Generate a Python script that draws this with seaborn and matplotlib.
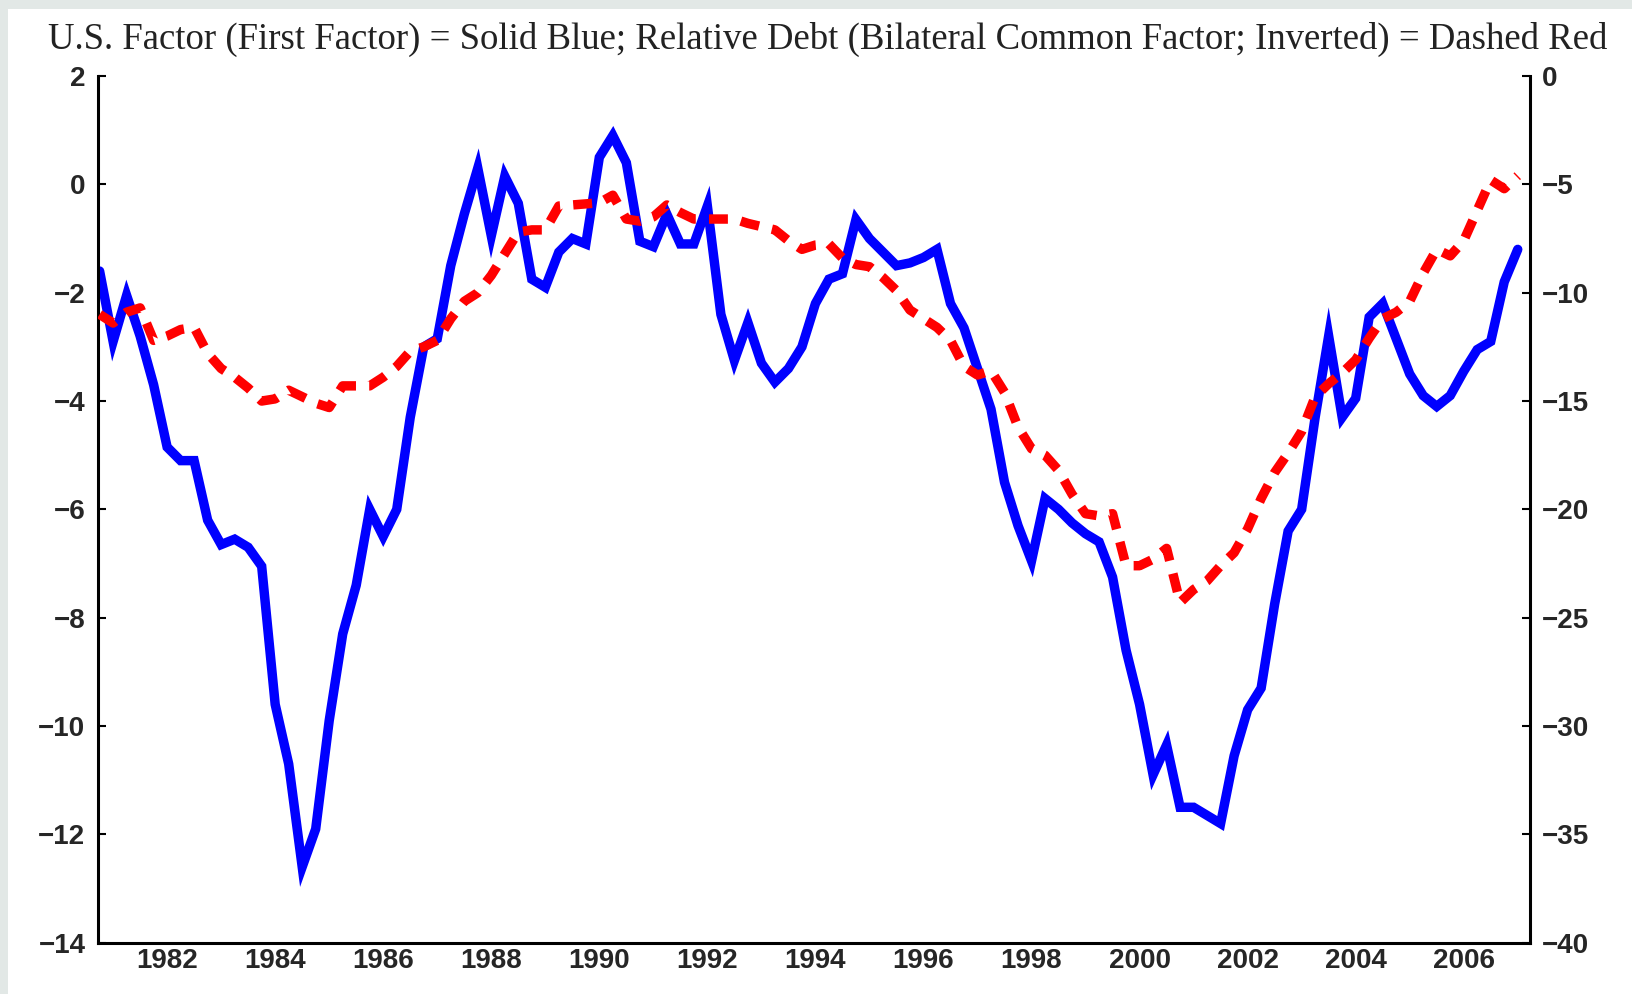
import numpy as np
import pandas as pd
import matplotlib
matplotlib.use("Agg")
import matplotlib.pyplot as plt
from matplotlib.patches import Rectangle
import seaborn as sns

# Quarterly sample, 1981Q2 .. 2007Q3
quarters = pd.period_range("1981Q2", periods=106, freq="Q")
year_pos = quarters.year + (quarters.quarter - 1) / 4.0

# U.S. factor (first factor), left axis
us_factor = [
    -1.6, -2.9, -2.05, -2.8, -3.7, -4.85, -5.1, -5.1, -6.2, -6.65,
    -6.55, -6.7, -7.05, -9.6, -10.7, -12.6, -11.9, -9.9, -8.3, -7.4,
    -6.0, -6.5, -6.0, -4.3, -3.0, -2.85, -1.5, -0.55, 0.3, -0.95,
    0.15, -0.35, -1.75, -1.9, -1.25, -1.0, -1.1, 0.5, 0.9, 0.4,
    -1.05, -1.15, -0.55, -1.1, -1.1, -0.4, -2.4, -3.25, -2.55, -3.3,
    -3.65, -3.4, -3.0, -2.2, -1.75, -1.65, -0.65, -1.0, -1.25, -1.5,
    -1.45, -1.35, -1.2, -2.2, -2.65, -3.4, -4.15, -5.5, -6.3, -6.95,
    -5.8, -6.0, -6.25, -6.45, -6.6, -7.25, -8.6, -9.6, -10.9, -10.35,
    -11.5, -11.5, -11.65, -11.8, -10.55, -9.7, -9.3, -7.75, -6.4, -6.0,
    -4.3, -2.8, -4.3, -3.95, -2.45, -2.2, -2.85, -3.5, -3.9, -4.1,
    -3.9, -3.45, -3.05, -2.9, -1.8, -1.2,
]

# Relative debt (bilateral common factor, inverted), right axis
relative_debt = [
    -11.0, -11.4, -10.9, -10.7, -12.2, -12.0, -11.7, -11.6, -12.8, -13.5,
    -13.9, -14.4, -15.0, -14.9, -14.5, -14.8, -15.1, -15.3, -14.3, -14.3,
    -14.3, -13.9, -13.4, -12.7, -12.5, -12.2, -11.2, -10.4, -10.0, -9.2,
    -8.2, -7.2, -7.1, -7.1, -6.0, -5.95, -5.9, -5.85, -5.5, -6.6,
    -6.7, -6.5, -5.95, -6.3, -6.6, -6.6, -6.6, -6.6, -6.8, -6.95,
    -7.1, -7.6, -8.0, -7.8, -7.75, -8.4, -8.7, -8.8, -9.3, -9.9,
    -10.8, -11.2, -11.6, -12.2, -13.4, -13.8, -13.6, -14.6, -16.2, -17.2,
    -17.5, -18.2, -19.3, -20.2, -20.3, -20.2, -22.6, -22.6, -22.3, -21.8,
    -24.3, -23.7, -23.3, -22.6, -22.0, -20.9, -19.5, -18.3, -17.4, -16.4,
    -14.8, -14.2, -13.7, -13.1, -12.1, -11.2, -10.9, -10.4, -9.1, -8.0,
    -8.3, -7.6, -6.2, -4.8, -5.2, -4.6,
]

left_ticks = [2, 0, -2, -4, -6, -8, -10, -12, -14]
right_ticks = [0, -5, -10, -15, -20, -25, -30, -35, -40]
label_years = list(range(1982, 2007, 2))
title = ("U.S. Factor (First Factor) = Solid Blue; Relative Debt "
         "(Bilateral Common Factor; Inverted) = Dashed Red")

df = pd.DataFrame({"year": year_pos, "us": us_factor, "debt": relative_debt})


def fmt(v):
    # real minus sign for negative tick values
    return str(v).replace("-", "\u2212")


sns.set_style("white")
plt.rcParams["font.family"] = ["Liberation Sans", "DejaVu Sans"]

fig = plt.figure(figsize=(16.33, 9.94), dpi=100)
fig.patch.set_facecolor("#e2e8e6")
fig.add_artist(Rectangle((0.005, 0), 0.995, 0.991, transform=fig.transFigure,
                         facecolor="white", edgecolor="none", zorder=-1))

ax = fig.add_axes([0.060, 0.0516, 0.8767, 0.8719])
ax.set_facecolor("white")
ax2 = ax.twinx()

sns.lineplot(data=df, x="year", y="us", ax=ax, color="#0000ff", lw=6.8,
             solid_joinstyle="miter")
sns.lineplot(data=df, x="year", y="debt", ax=ax2, color="#ff0000", lw=6.8,
             dashes=False)
ax2.lines[0].set_dashes((2.0, 1.4))

ax.set_xlim(1981.22, 2007.72)
ax.set_ylim(-14, 2)
ax2.set_ylim(-40, 0)
ax.set_xlabel("")
ax.set_ylabel("")
ax2.set_ylabel("")

# year ticks at year boundaries, labels centred in the year
ax.set_xticks(range(1982, 2008))
ax.set_xticklabels([])
ax.set_xticks([y + 0.5 for y in label_years], minor=True)
ax.set_xticklabels([str(y) for y in label_years], minor=True)
ax.tick_params(axis="x", which="major", direction="in", length=6, width=1.5,
               color="black")
ax.tick_params(axis="x", which="minor", length=0, pad=4, labelsize=20)

ax.set_yticks(left_ticks)
ax.set_yticklabels([fmt(t) for t in left_ticks])
ax.tick_params(axis="y", direction="in", length=6, width=1.5, pad=9,
               labelsize=20, color="black")
ax2.set_yticks(right_ticks)
ax2.set_yticklabels([fmt(t) for t in right_ticks])
ax2.tick_params(axis="y", direction="in", length=6, width=1.5, pad=9,
                labelsize=20, color="black")

for lab in ax.get_xticklabels(minor=True) + ax.get_yticklabels() + ax2.get_yticklabels():
    lab.set_fontweight("bold")

for a in (ax, ax2):
    a.spines["top"].set_visible(False)
    for s in ("left", "right", "bottom"):
        a.spines[s].set_color("black")
        a.spines[s].set_linewidth(2.2)
    a.grid(False)
ax.spines["right"].set_visible(False)
ax2.spines["left"].set_visible(False)
ax2.spines["bottom"].set_visible(False)

fig.text(0.507, 0.960, title, ha="center", va="center", fontsize=26.5,
         family=["Liberation Serif", "DejaVu Serif"], color="#222222")

fig.savefig("out.png", dpi=100, facecolor=fig.get_facecolor())
